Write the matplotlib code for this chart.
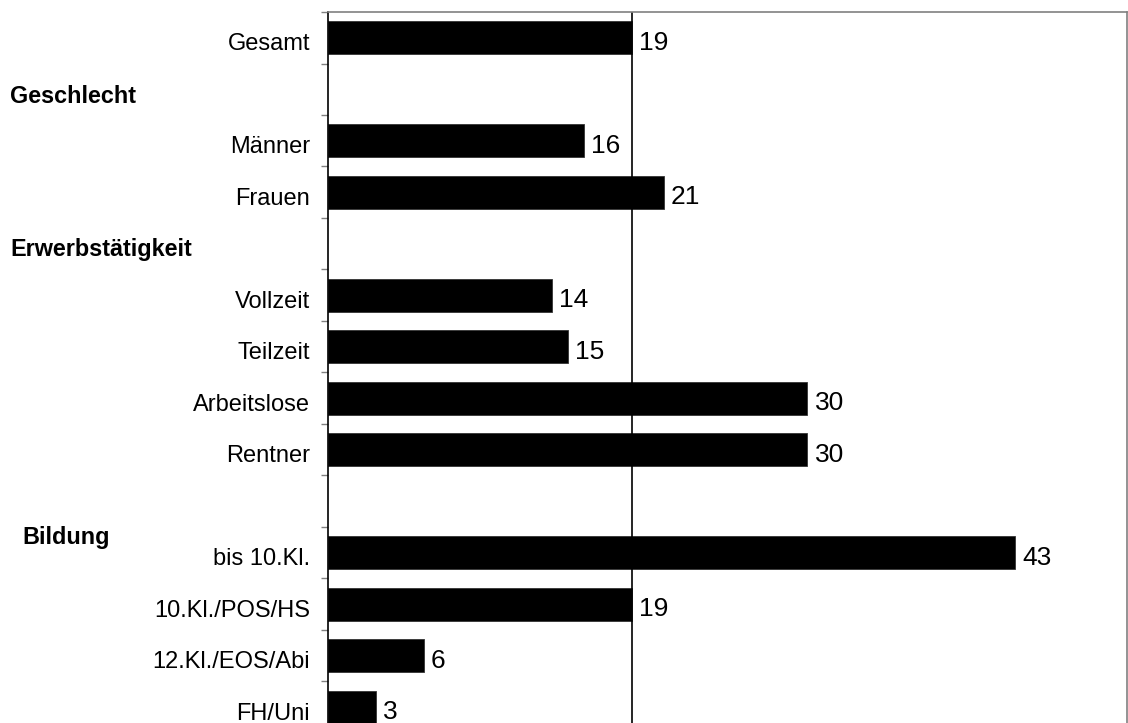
import matplotlib.pyplot as plt
import matplotlib.transforms as mtransforms
import numpy as np

plt.rcParams['font.family'] = ['Liberation Sans', 'DejaVu Sans']

# slot order from top, '' = empty slot (group heading row)
labels = ['Gesamt', '', 'Männer', 'Frauen', '', 'Vollzeit', 'Teilzeit',
          'Arbeitslose', 'Rentner', '', 'bis 10.Kl.', '10.Kl./POS/HS',
          '12.Kl./EOS/Abi', 'FH/Uni']
values = [19, None, 16, 21, None, 14, 15, 30, 30, None, 43, 19, 6, 3]
headings = ['Geschlecht', 'Erwerbstätigkeit', 'Bildung']
heading_slots = [1.15, 4.12, 9.7]
heading_x = [10, 10, 22]  # figure px from left
ref_value = 19

fig = plt.figure(figsize=(11.28, 7.23), dpi=100)
ax = fig.add_axes([0.2908, -0.0138, 0.7083, 0.9972])

pos = np.arange(len(labels))
for p, v in zip(pos, values):
    if v is None:
        continue
    ax.barh(p, v, height=0.64, color='black', edgecolor='#333333', linewidth=0.6)
    ax.text(v + 0.45, p + 0.1, str(v), va='center', ha='left', fontsize=19)

ax.axvline(ref_value, color='black', linewidth=1.2)

ax.set_xlim(0, 50)
ax.set_ylim(len(labels) - 0.5, -0.5)
ax.set_xticks([])

# ticks at slot boundaries, labels at slot centers (a bit lower, like the original)
ax.set_yticks(np.arange(-0.5, len(labels)))
ax.set_yticklabels([])
ax.set_yticks(pos + 0.08, minor=True)
ax.set_yticklabels(labels, minor=True, fontsize=17)
ax.tick_params(axis='y', which='major', direction='out', length=5, color='#808080', width=1)
ax.tick_params(axis='y', which='minor', length=0, pad=13)

ax.spines['left'].set_color('black')
ax.spines['left'].set_linewidth(1.2)
for s in ['top', 'right']:
    ax.spines[s].set_color('#808080')
    ax.spines[s].set_linewidth(1.2)
ax.spines['bottom'].set_visible(False)

trans = mtransforms.blended_transform_factory(fig.transFigure, ax.transData)
for h, y, x in zip(headings, heading_slots, heading_x):
    ax.text(x / 1128, y, h, transform=trans, fontsize=16.8,
            fontweight='bold', va='center', ha='left')

fig.savefig('out.png', dpi=100)
